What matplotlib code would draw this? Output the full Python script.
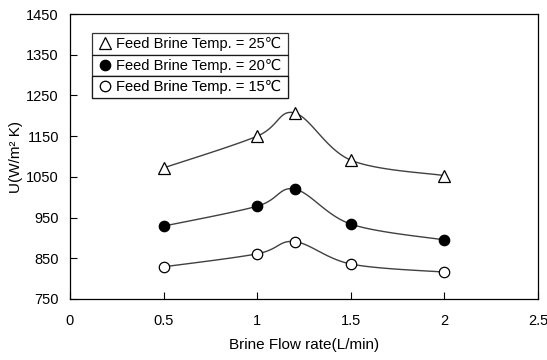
import numpy as np
import matplotlib
matplotlib.use("Agg")
import matplotlib.pyplot as plt
from matplotlib.lines import Line2D

flow = [0.5, 1.0, 1.2, 1.5, 2.0]
u_25 = [1072, 1150, 1207, 1091, 1053]
u_20 = [929, 978, 1020, 934, 895]
u_15 = [829, 861, 891, 836, 816]
labels = ["Feed Brine Temp. = 25℃", "Feed Brine Temp. = 20℃", "Feed Brine Temp. = 15℃"]
xticks = [0, 0.5, 1, 1.5, 2, 2.5]
yticks = [750, 850, 950, 1050, 1150, 1250, 1350, 1450]

FONT = ["Liberation Sans Narrow", "Liberation Sans", "DejaVu Sans"]
plt.rcParams['font.family'] = FONT

fig = plt.figure(figsize=(5.47, 3.60), dpi=100)
ax = fig.add_axes([70/547, 61/360, 468/547, 285/360])

sx, sy = 468/2.5, 285/700.0


def smooth(x, y, n=30, t=0.5):
    x = np.asarray(x, float) * sx
    y = np.asarray(y, float) * sy
    P = np.column_stack([x, y])
    out = []
    m = len(P)
    for i in range(m - 1):
        p0 = P[i - 1] if i > 0 else P[i]
        p1, p2 = P[i], P[i + 1]
        p3 = P[i + 2] if i + 2 < m else P[i + 1]
        c1 = p1 + (p2 - p0) * t / 3
        c2 = p2 - (p3 - p1) * t / 3
        s = np.linspace(0, 1, n)[:, None]
        seg = (1-s)**3*p1 + 3*(1-s)**2*s*c1 + 3*(1-s)*s**2*c2 + s**3*p2
        out.append(seg if i == 0 else seg[1:])
    c = np.vstack(out)
    return c[:, 0] / sx, c[:, 1] / sy


series = [(u_25, '^', 'white'), (u_20, 'o', 'black'), (u_15, 'o', 'white')]
handles = []
for (vals, mk, fc), lab in zip(series, labels):
    xs, ys = smooth(flow, vals)
    ax.plot(xs, ys, color='#404040', lw=1.0, zorder=2)
    ax.plot(flow, vals, linestyle='none', marker=mk, ms=7.5 if mk == 'o' else 9,
            mfc=fc, mec='black', mew=0.9, zorder=3)
    handles.append(Line2D([], [], linestyle='none', marker=mk, ms=7.5 if mk == 'o' else 9,
                          mfc=fc, mec='black', mew=0.9, label=lab))

ax.set_xlim(0, 2.5)
ax.set_ylim(750, 1450)
ax.set_xticks(xticks)
ax.set_xticklabels(["0", "0.5", "1", "1.5", "2", "2.5"])
ax.set_yticks(yticks)
ax.tick_params(direction='in', length=5, width=0.8, labelsize=10.5, colors='black')
ax.tick_params(axis='x', pad=11)
ax.tick_params(axis='y', pad=8)
for s in ax.spines.values():
    s.set_linewidth(0.9)

ax.set_xlabel("Brine Flow rate(L/min)", fontsize=11, labelpad=7)
ax.set_ylabel("U(W/m² K)", fontsize=11, labelpad=2)

x0 = (92-70)/468
w = (288-92)/468
rowh = 21.7/285
top = (299-33)/285
for i, h in enumerate(handles):
    y0 = top - (i + 1) * rowh
    lg = ax.legend(handles=[h], loc='lower left', bbox_to_anchor=(x0, y0, w, rowh),
                   mode='expand', frameon=True, fancybox=False, fontsize=10.5,
                   borderpad=0.26, handletextpad=0.2, handlelength=1.2,
                   borderaxespad=0)
    lg.get_frame().set_edgecolor('black')
    lg.get_frame().set_linewidth(0.9)
    ax.add_artist(lg)

fig.savefig("out.png", dpi=100)
